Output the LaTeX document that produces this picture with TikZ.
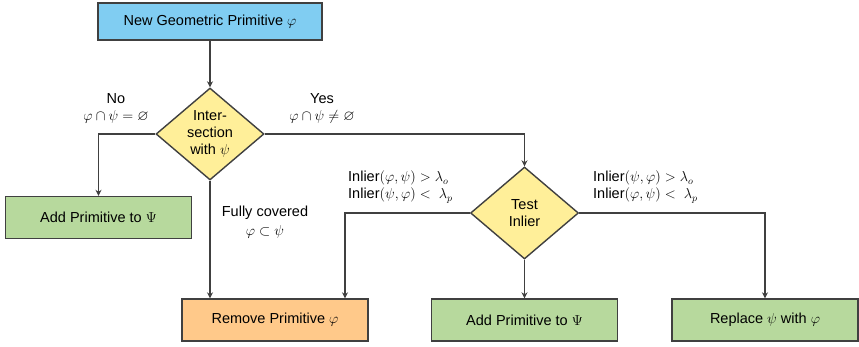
\documentclass[tikz,border=0pt]{standalone}
\usepackage{amssymb}
\usepackage{fontspec}
\setmainfont{Liberation Sans}
\usetikzlibrary{positioning,shapes.geometric,arrows.meta}

\definecolor{linegray}{HTML}{404040}
\definecolor{bluefill}{HTML}{80CDF2}
\definecolor{yellowfill}{HTML}{FFEF99}
\definecolor{greenfill}{HTML}{B7D99D}
\definecolor{orangefill}{HTML}{FFC98A}

\tikzset{
  box/.style={draw=linegray, line width=1.4pt, minimum width=186pt, minimum height=42pt, inner sep=0pt},
  decision/.style={diamond, draw=linegray, line width=1.4pt, fill=yellowfill, aspect=1.17,
    minimum width=108pt, minimum height=92pt, inner sep=0pt, align=center},
  flow/.style={draw=linegray, line width=1.8pt, -{Stealth[length=6pt,width=6pt]}},
  lbl/.style={inner sep=0pt}
}

\begin{document}
\begin{tikzpicture}[x=1pt,y=-1pt,every node/.style={font=\fontsize{14.5}{17}\selectfont}]
   \useasboundingbox (0,0) rectangle (859,347);
   \node[box, fill=bluefill, minimum width=224pt, minimum height=37pt] (new) at (210,21.5) {New Geometric Primitive $\varphi$};
   \node[decision] (inter) at (210,134) {Inter-\\section\\with $\psi$};
   \node[box, fill=greenfill] (addl) at (98.5,217.5) {Add Primitive to $\Psi$};
   \node[decision] (test) at (524.5,213) {Test\\Inlier};
   \node[box, fill=orangefill] (remove) at (275,320) {Remove Primitive $\varphi$};
   \node[box, fill=greenfill] (addr) at (524.5,320) {Add Primitive to $\Psi$};
   \node[box, fill=greenfill] (replace) at (765,320) {Replace $\psi$ with $\varphi$};
   \node[lbl, align=center] (no) at (116,108) {No\\$\varphi\cap\psi=\varnothing$};
   \node[lbl, align=center] (yes) at (322,108) {Yes\\$\varphi\cap\psi\neq\varnothing$};
   \node[lbl, align=center] (cov) at (265,222) {Fully covered\\[2pt]$\varphi\subset\psi$};
   \node[lbl, align=left, anchor=west] (inl) at (348,187) {Inlier$(\varphi,\psi)>\lambda_o$\\Inlier$(\psi,\varphi)<\ \lambda_p$};
   \node[lbl, align=left, anchor=west] (inr) at (593,187) {Inlier$(\psi,\varphi)>\lambda_o$\\Inlier$(\varphi,\psi)<\ \lambda_p$};
   \draw[flow] (new) -- (inter); %new to intersection
   \draw[flow] (inter.west) -| (addl); %no
   \draw[flow] (inter.east) -| (test); %yes
   \draw[flow] (inter.south) -- ([xshift=-65pt]remove.north); %fully covered
   \draw[flow] (test.west) -| ([xshift=70pt]remove.north); %test to remove
   \draw[flow] (test) -- (addr); %test to add
   \draw[flow] (test.east) -| (replace); %test to replace
\end{tikzpicture}
\end{document}
